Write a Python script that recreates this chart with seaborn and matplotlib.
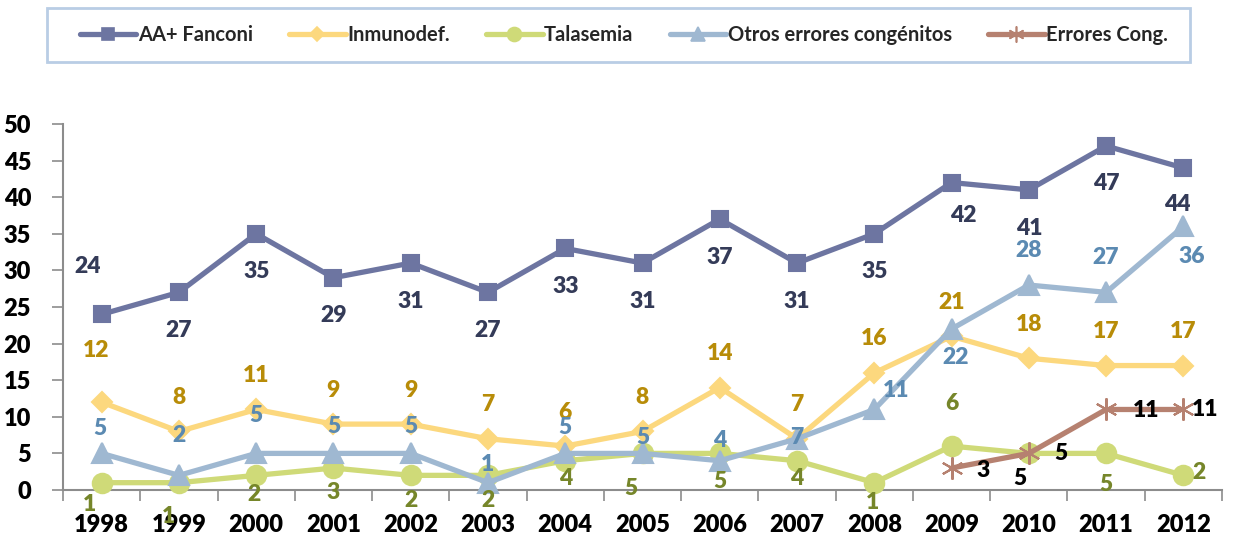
import numpy as np
import pandas as pd
import matplotlib
matplotlib.use("Agg")
import matplotlib.pyplot as plt
from matplotlib.patches import Rectangle
from matplotlib.ticker import FixedLocator
import seaborn as sns

years = ["1998", "1999", "2000", "2001", "2002", "2003", "2004", "2005",
         "2006", "2007", "2008", "2009", "2010", "2011", "2012"]
fanconi = [24, 27, 35, 29, 31, 27, 33, 31, 37, 31, 35, 42, 41, 47, 44]
inmunodef = [12, 8, 11, 9, 9, 7, 6, 8, 14, 7, 16, 21, 18, 17, 17]
talasemia = [1, 1, 2, 3, 2, 2, 4, 5, 5, 4, 1, 6, 5, 5, 2]
otros = [5, 2, 5, 5, 5, 1, 5, 5, 4, 7, 11, 22, 28, 27, 36]
errores_years = ["2009", "2010", "2011", "2012"]
errores = [3, 5, 11, 11]

sns.set_theme(style="white")
plt.rcParams["font.family"] = ["Lato", "DejaVu Sans"]
plt.rcParams["font.weight"] = "bold"

W = "heavy"
FW, FH = 1234, 537
fig = plt.figure(figsize=(FW / 100, FH / 100), dpi=100)
ax = fig.add_axes([63 / FW, 1 - 490 / FH, (1222 - 63) / FW, (490 - 124) / FH])

pos = {y: i for i, y in enumerate(years)}
x_all = np.arange(len(years))
x_err = np.array([pos[y] for y in errores_years])

series = [
    ("AA+ Fanconi", x_all, fanconi, "#6d75a1", "s", 12, "#343b58"),
    ("Inmunodef.", x_all, inmunodef, "#fcd87e", "D", 10, "#b88c08"),
    ("Talasemia", x_all, talasemia, "#cfda78", "o", 14, "#76862a"),
    ("Otros errores congénitos", x_all, otros, "#9fb8d1", "^", 14, "#5b8ab2"),
    ("Errores Cong.", x_err, errores, "#b68170", (6, 2, 0), 16, "#000000"),
]

handles = []
for name, xs, vals, color, marker, ms, _ in series:
    sns.lineplot(x=xs, y=vals, ax=ax, color=color, linewidth=3.8,
                 marker=marker, markersize=ms, markeredgecolor=color,
                 markeredgewidth=1.5, label=name, legend=False, zorder=3)
    handles.append(plt.Line2D([], [], color=color, linewidth=3.8, marker=marker,
                              markersize=ms * 0.72, markeredgecolor=color,
                              markeredgewidth=1.2))

# label offsets in pixels (dx, dy) per point
off_fanconi = [(-14, 48)] + [(0, -38)] * 8 + [(0, -38), (0, -38), (12, -33), (0, -39), (0, -38), (-6, -37)]
off_inmuno = [(-6, 52)] + [(0, 34)] * 14
off_tala = [(-12, -22), (-10, -34), (-2, -19), (0, -24), (0, -25), (0, -25), (0, -18),
            (-12, -35), (0, -28), (0, -18), (-2, -20), (0, 43), (0, 0), (0, -31), (16, 3)]
off_otros = [(-2, 25), (0, 40), (0, 38), (0, 27), (0, 27), (0, 18), (0, 26), (0, 16),
             (0, 20), (0, 1), (22, 19), (4, -29), (0, 35), (0, 35), (8, -30)]
off_err = [(32, -2), (32, 0), (40, -1), (22, 0)]

offsets = [off_fanconi, off_inmuno, off_tala, off_otros, off_err]
for (name, xs, vals, color, marker, ms, tcolor), offs in zip(series, offsets):
    for i, (xv, v) in enumerate(zip(xs, vals)):
        if name == "Talasemia" and years[xv] == "2010":
            continue
        dx, dy = offs[i]
        ax.annotate(str(v), (xv, v), xytext=(dx, dy), textcoords="offset pixels",
                    ha="center", va="center", fontsize=16.5, fontweight=W,
                    color=tcolor, zorder=5)

# second value tag at 2010 for the congenital-errors series
ax.annotate(str(talasemia[pos["2010"]]), (pos["2010"], talasemia[pos["2010"]]),
            xytext=(-9, -25), textcoords="offset pixels", ha="center", va="center",
            fontsize=16.5, fontweight=W, color="#000000", zorder=5)

ax.set_xlim(-0.5, len(years) - 0.5)
ax.set_ylim(0, 50)
ax.set_xticks(x_all)
ax.set_xticklabels(years)
ax.xaxis.set_minor_locator(FixedLocator(np.arange(-0.5, len(years), 1.0)))
ax.set_yticks(np.arange(0, 51, 5))
ax.tick_params(axis="x", which="major", length=0, pad=17, labelsize=17, labelcolor="black")
ax.tick_params(axis="x", which="minor", length=8, width=1.2, color="#8c8c8c", direction="out", bottom=True)
ax.tick_params(axis="y", which="major", length=8, width=1.2, color="#8c8c8c", direction="out",
               left=True, pad=15, labelsize=17, labelcolor="black")
for lab in ax.get_xticklabels() + ax.get_yticklabels():
    lab.set_fontweight(W)

for side in ["top", "right"]:
    ax.spines[side].set_visible(False)
for side in ["left", "bottom"]:
    ax.spines[side].set_color("#8c8c8c")
    ax.spines[side].set_linewidth(1.5)
ax.set_xlabel("")
ax.set_ylabel("")
for line in ax.lines:
    line.set_clip_on(False)

# legend box drawn as its own frame, entries placed inside
fig.patches.append(Rectangle((47 / FW, 1 - 62 / FH), (1190 - 47) / FW, 54 / FH,
                             transform=fig.transFigure, facecolor="white",
                             edgecolor="#b9cde5", linewidth=2, zorder=0))
leg = fig.legend(handles, [s[0] for s in series], loc="center left",
                 bbox_to_anchor=(80 / FW, 1 - 35 / FH), borderaxespad=0, borderpad=0,
                 ncol=5, frameon=False, handlelength=2.8,
                 handletextpad=0.08, columnspacing=1.8,
                 prop={"weight": "bold", "size": 14.5})

fig.savefig("out.png", dpi=100)
